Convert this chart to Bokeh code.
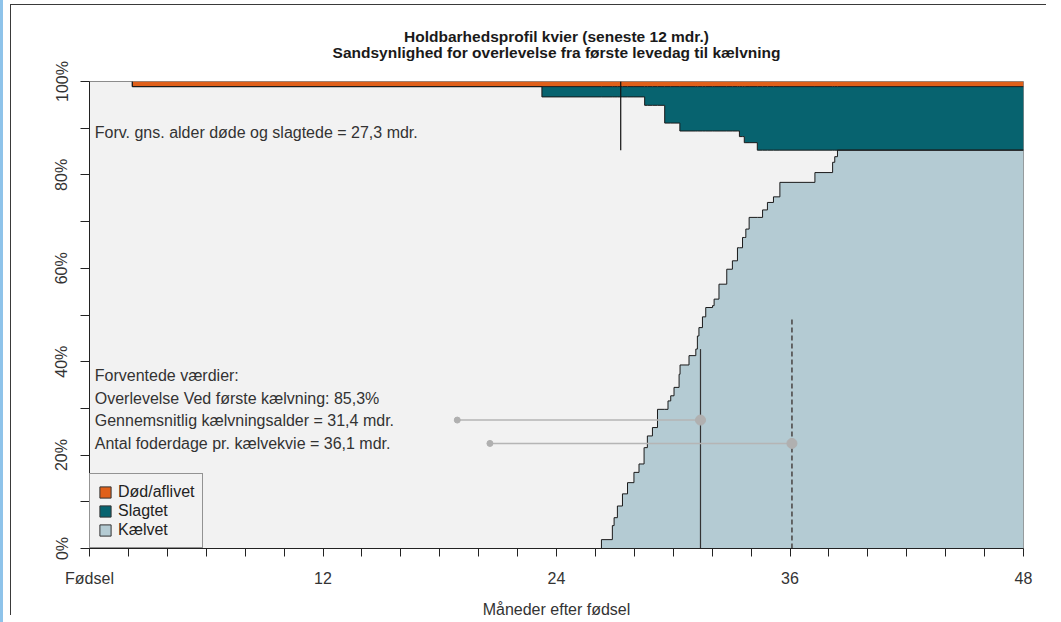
from bokeh.plotting import figure
from bokeh.models import Range1d, FixedTicker, Legend, LegendItem, Title, InlineStyleSheet
from bokeh.core.properties import value
from bokeh.embed import file_html
from bokeh.resources import INLINE

# ---------------- data ----------------
title_line1 = "Holdbarhedsprofil kvier (seneste 12 mdr.)"
title_line2 = "Sandsynlighed for overlevelse fra første levedag til kælvning"
x_label = "Måneder efter fødsel"

x_ticks = list(range(0, 49, 2))
x_tick_labels = {0: "Fødsel", 12: "12", 24: "24", 36: "36", 48: "48"}
y_ticks = list(range(0, 101, 10))
y_tick_labels = {0: "0%", 20: "20%", 40: "40%", 60: "60%", 80: "80%", 100: "100%"}

# cumulative share (%) by month after birth
months_dead = [2.2]
dead_cum = [1.1]

months_slaughter = [23.25, 28.53, 29.56, 30.34, 33.40, 33.65, 34.32]
slaughter_cum = [2.2, 4.0, 7.8, 9.5, 10.7, 12.0, 13.6]

months_calving = [26.31, 26.87, 26.96, 27.13, 27.39, 27.65, 27.98, 28.24, 28.50, 28.67,
                  28.93, 29.19, 29.73, 29.87, 30.04, 30.30, 30.35, 30.81, 31.16, 31.24,
                  31.32, 31.50, 31.67, 32.02, 32.10, 32.35, 32.75, 33.04, 33.30, 33.56,
                  33.73, 33.90, 34.59, 34.84, 35.15, 35.48, 37.28, 38.19, 38.30, 38.44]
calving_cum = [1.9, 4.9, 6.6, 9.1, 11.7, 14.1, 16.3, 18.1, 21.6, 24.1,
               25.9, 29.8, 31.6, 32.7, 34.5, 37.3, 39.3, 41.3, 42.7, 45.5,
               47.3, 49.6, 51.6, 52.0, 53.4, 56.6, 59.8, 61.6, 64.4, 66.6,
               68.4, 70.9, 72.5, 74.1, 75.3, 78.4, 80.5, 82.7, 83.9, 85.3]

# expected values
age_dead_slaughtered = 27.3
age_dead_line_range = [85.3, 100.0]
calving_age = 31.4
calving_line_top = 42.7
feed_days = 36.1
feed_line_top = 49.1
calving_range = [18.9, 31.4]
calving_range_y = 27.5
feed_range = [20.58, 36.1]
feed_range_y = 22.5

note_top = "Forv. gns. alder døde og slagtede = 27,3 mdr."
note_top_y = 89.1
notes = ["Forventede værdier:",
         "Overlevelse Ved første kælvning: 85,3%",
         "Gennemsnitlig kælvningsalder = 31,4 mdr.",
         "Antal foderdage pr. kælvekvie = 36,1 mdr."]
notes_y = [37.0, 32.2, 27.4, 22.5]
notes_x = 0.27

legend_labels = ["Død/aflivet", "Slagtet", "Kælvet"]
c_dead = "#E0601A"
c_slaughter = "#07636F"
c_calving = "#B4CBD3"
bg = "#F2F2F2"

FONT = "Liberation Sans"


def value_at(t, months, vals):
    v = 0.0
    for m, x in zip(months, vals):
        if m <= t:
            v = x
    return v


grid = sorted(set([0.0, 48.0] + months_dead + months_slaughter + months_calving))


def stair(f):
    xs, ys = [], []
    prev = None
    for g in grid:
        if prev is not None:
            xs.append(g)
            ys.append(f(prev))
        xs.append(g)
        ys.append(f(g))
        prev = g
    return xs, ys


xs, d = stair(lambda t: value_at(t, months_dead, dead_cum))
_, s = stair(lambda t: value_at(t, months_slaughter, slaughter_cum))
_, c = stair(lambda t: value_at(t, months_calving, calving_cum))

orange_low = [100 - a for a in d]
teal_low = [100 - a - b for a, b in zip(d, s)]

p = figure(width=1053, height=622, x_range=Range1d(0, 48), y_range=Range1d(0, 100),
           output_backend="svg", toolbar_location=None,
           min_border_left=89, min_border_right=30, min_border_top=81, min_border_bottom=74,
           background_fill_color=bg, border_fill_color="white")

# page frame of the original screenshot (drawn outside the plot area)
p.stylesheets = [InlineStyleSheet(css="""
:host::before { content: ''; position: absolute; left: 10px; top: 4px;
  width: 1035px; height: 610px; border-left: 1.5px solid #3a3a3a;
  border-top: 1.5px solid #3a3a3a; pointer-events: none; z-index: 5; }
:host::after { content: ''; position: absolute; left: 0px; top: 0px;
  width: 3px; height: 622px; background: #8EC3EA; pointer-events: none; z-index: 5; }
""")]

title_style = dict(align="center", text_font=FONT, text_font_size="15.5px",
                   text_font_style="bold", text_color="#1a1a1a")
p.title.text = title_line1
for k, v in title_style.items():
    setattr(p.title, k, v)
p.title.standoff = -7
# spacer between plot area and the titles, then the second title line
p.add_layout(Title(text=" ", align="center", text_font_size="1px", standoff=18), "above")
p.add_layout(Title(text=title_line2, standoff=0, **title_style), "above")

p.grid.visible = False
p.outline_line_color = "#8c8c8c"

# areas
p.varea(x=xs, y1=orange_low, y2=[100] * len(xs), fill_color=c_dead)
p.varea(x=xs, y1=teal_low, y2=orange_low, fill_color=c_slaughter)
p.varea(x=xs, y1=[0] * len(xs), y2=c, fill_color=c_calving)


def from_x(x0, xv, yv):
    idx = [i for i, x in enumerate(xv) if x >= x0]
    i0 = idx[0]
    return xv[i0:], yv[i0:]


lx, ly = from_x(months_dead[0], xs, orange_low)
p.line(lx, ly, line_color="#1a1a1a", line_width=1)
lx, ly = from_x(months_dead[0], xs, teal_low)
p.line(lx, ly, line_color="#1a1a1a", line_width=1)
lx, ly = from_x(months_calving[0], xs, c)
p.line(lx, ly, line_color="#1a1a1a", line_width=1)

# reference lines
p.segment(x0=[age_dead_slaughtered], y0=[age_dead_line_range[0]],
          x1=[age_dead_slaughtered], y1=[age_dead_line_range[1]],
          line_color="#111111", line_width=1.2)
p.segment(x0=[calving_age], y0=[0], x1=[calving_age], y1=[calving_line_top],
          line_color="#333333", line_width=1.2)
p.segment(x0=[feed_days], y0=[0], x1=[feed_days], y1=[feed_line_top],
          line_color="#5a5a5a", line_width=1.8, line_dash="5 3")

p.segment(x0=[calving_range[0], feed_range[0]], y0=[calving_range_y, feed_range_y],
          x1=[calving_range[1], feed_range[1]], y1=[calving_range_y, feed_range_y],
          line_color="#b5b5b5", line_width=1.5)
p.scatter(x=[calving_range[0], feed_range[0]], y=[calving_range_y, feed_range_y],
          size=6, color="#b0b0b0")
p.scatter(x=[calving_range[1], feed_range[1]], y=[calving_range_y, feed_range_y],
          size=10, color="#b0b0b0")

# notes
p.text(x=[notes_x], y=[note_top_y], text=[note_top], text_font=value(FONT),
       text_font_size="16px", text_color="#333333", text_baseline="middle")
p.text(x=[notes_x] * len(notes), y=notes_y, text=notes, text_font=value(FONT),
       text_font_size="16px", text_color="#333333", text_baseline="middle")

# legend (swatch renderers placed outside the visible ranges)
off = dict(top=[-20], bottom=[-21], left=[-20], right=[-19])
r1 = p.quad(**off, fill_color=c_dead, line_color="#333333")
r2 = p.quad(**off, fill_color=c_slaughter, line_color="#333333")
r3 = p.quad(**off, fill_color=c_calving, line_color="#333333")
legend = Legend(items=[LegendItem(label=legend_labels[0], renderers=[r1]),
                       LegendItem(label=legend_labels[1], renderers=[r2]),
                       LegendItem(label=legend_labels[2], renderers=[r3])],
                location="bottom_left", margin=0, padding=8, spacing=0,
                glyph_width=14, glyph_height=14, label_height=19, label_width=76,
                label_standoff=6, label_text_font=FONT, label_text_font_size="16px",
                label_text_color="#222222", border_line_color="#333333",
                background_fill_color=bg, background_fill_alpha=1.0)
p.add_layout(legend, "center")

# axes
p.xaxis.ticker = FixedTicker(ticks=x_ticks)
p.xaxis.major_label_overrides = {t: x_tick_labels.get(t, "") for t in x_ticks}
p.yaxis.ticker = FixedTicker(ticks=y_ticks)
p.yaxis.major_label_overrides = {t: y_tick_labels.get(t, "") for t in y_ticks}
p.yaxis.major_label_orientation = "vertical"
for ax in (p.xaxis, p.yaxis):
    ax.axis_line_color = "#222222"
    ax.major_tick_line_color = "#222222"
    ax.major_tick_in = 0
    ax.minor_tick_line_color = None
    ax.major_label_text_font = FONT
    ax.major_label_text_font_size = "16px"
    ax.major_label_text_color = "#333333"
p.xaxis.major_tick_out = 8
p.yaxis.major_tick_out = 9
p.xaxis.major_label_standoff = 13
p.yaxis.major_label_standoff = 10
p.xaxis.axis_label = x_label
p.xaxis.axis_label_text_font = FONT
p.xaxis.axis_label_text_font_size = "16px"
p.xaxis.axis_label_text_font_style = "normal"
p.xaxis.axis_label_text_color = "#333333"
p.xaxis.axis_label_standoff = 11

open("out.html", "w").write(file_html(p, INLINE))
